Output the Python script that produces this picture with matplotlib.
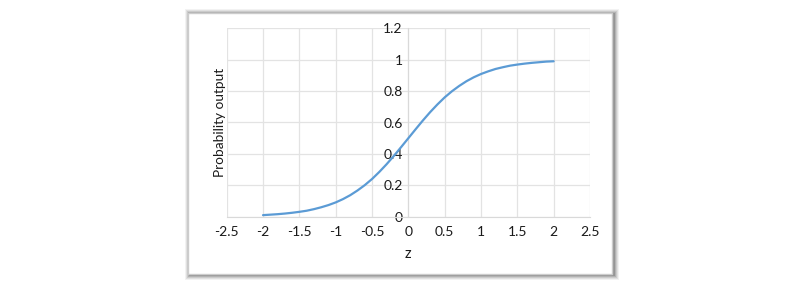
import matplotlib
matplotlib.use("Agg")
import matplotlib.pyplot as plt
from matplotlib.patches import Rectangle

# values (z, probability)
z_vals = [-2.0, -1.9, -1.8, -1.7, -1.6, -1.5, -1.4, -1.3, -1.2, -1.1, -1.0,
          -0.9, -0.8, -0.7, -0.6, -0.5, -0.4, -0.3, -0.2, -0.1, 0.0,
          0.1, 0.2, 0.3, 0.4, 0.5, 0.6, 0.7, 0.8, 0.9, 1.0,
          1.1, 1.2, 1.3, 1.4, 1.5, 1.6, 1.7, 1.8, 1.9, 2.0]
prob = [0.010, 0.013, 0.016, 0.020, 0.025, 0.031, 0.038, 0.048, 0.060, 0.074, 0.091,
        0.112, 0.137, 0.167, 0.201, 0.240, 0.285, 0.334, 0.387, 0.443, 0.500,
        0.557, 0.613, 0.666, 0.715, 0.760, 0.799, 0.833, 0.863, 0.888, 0.909,
        0.926, 0.941, 0.952, 0.962, 0.969, 0.975, 0.980, 0.984, 0.988, 0.990]
x_ticks = [-2.5, -2, -1.5, -1, -0.5, 0, 0.5, 1, 1.5, 2, 2.5]
x_labels = ["-2.5", "-2", "-1.5", "-1", "-0.5", "0", "0.5", "1", "1.5", "2", "2.5"]
y_ticks = [0, 0.2, 0.4, 0.6, 0.8, 1, 1.2]
y_labels = ["0", "0.2", "0.4", "0.6", "0.8", "1", "1.2"]

plt.rcParams['font.family'] = ['Lato', 'DejaVu Sans']
W, H = 800, 293
fig = plt.figure(figsize=(W / 100, H / 100), dpi=100)
fig.patch.set_facecolor('white')

# framed card with soft shadow
bx0, by0, bx1, by1 = 188, 13, 612, 274
for i, a in enumerate([0.05, 0.07, 0.09, 0.12, 0.16]):
    off = 5 - i
    fig.patches.append(Rectangle(((bx0 - off + 2) / W, 1 - (by1 + off + 1) / H),
                                 (bx1 - bx0 + 2 * off) / W, (by1 - by0 + 2 * off) / H,
                                 transform=fig.transFigure, facecolor='black',
                                 edgecolor='none', alpha=a, zorder=0))
fig.patches.append(Rectangle((bx0 / W, 1 - by1 / H), (bx1 - bx0) / W, (by1 - by0) / H,
                             transform=fig.transFigure, facecolor='white',
                             edgecolor='#cccccc', linewidth=1.0, zorder=1))

ax = fig.add_axes([226.7 / W, 1 - 216.7 / H, (590 - 226.7) / W, (216.7 - 28.3) / H])
ax.set_zorder(2)
ax.patch.set_alpha(0)

ax.plot(z_vals, prob, color='#5b9bd5', linewidth=1.6, zorder=3, solid_capstyle='round')

ax.set_xlim(-2.5, 2.5)
ax.set_ylim(0, 1.2)
ax.set_xticks(x_ticks)
ax.set_xticklabels(x_labels)
ax.set_yticks(y_ticks)
ax.set_yticklabels(y_labels)
ax.grid(True, color='#e3e3e3', linewidth=0.9)
ax.set_axisbelow(True)

for s in ['top', 'right']:
    ax.spines[s].set_visible(False)
ax.spines['left'].set_position(('data', 0))
ax.spines['left'].set_color('#d9d9d9')
ax.spines['bottom'].set_color('#d9d9d9')
ax.tick_params(axis='both', length=0, labelsize=10, colors='#1a1a1a')
ax.tick_params(axis='x', pad=7)
ax.tick_params(axis='y', pad=4)

ax.set_xlabel('z', fontsize=10.5, color='#1a1a1a')
ax.xaxis.set_label_coords(0.5, -0.16)
ax.set_ylabel('Probability output', fontsize=9.8, color='#1a1a1a')
ax.yaxis.set_label_coords(-0.018, 0.5)
ax.yaxis.label.set_verticalalignment('center')

fig.savefig('out.png', dpi=100)
